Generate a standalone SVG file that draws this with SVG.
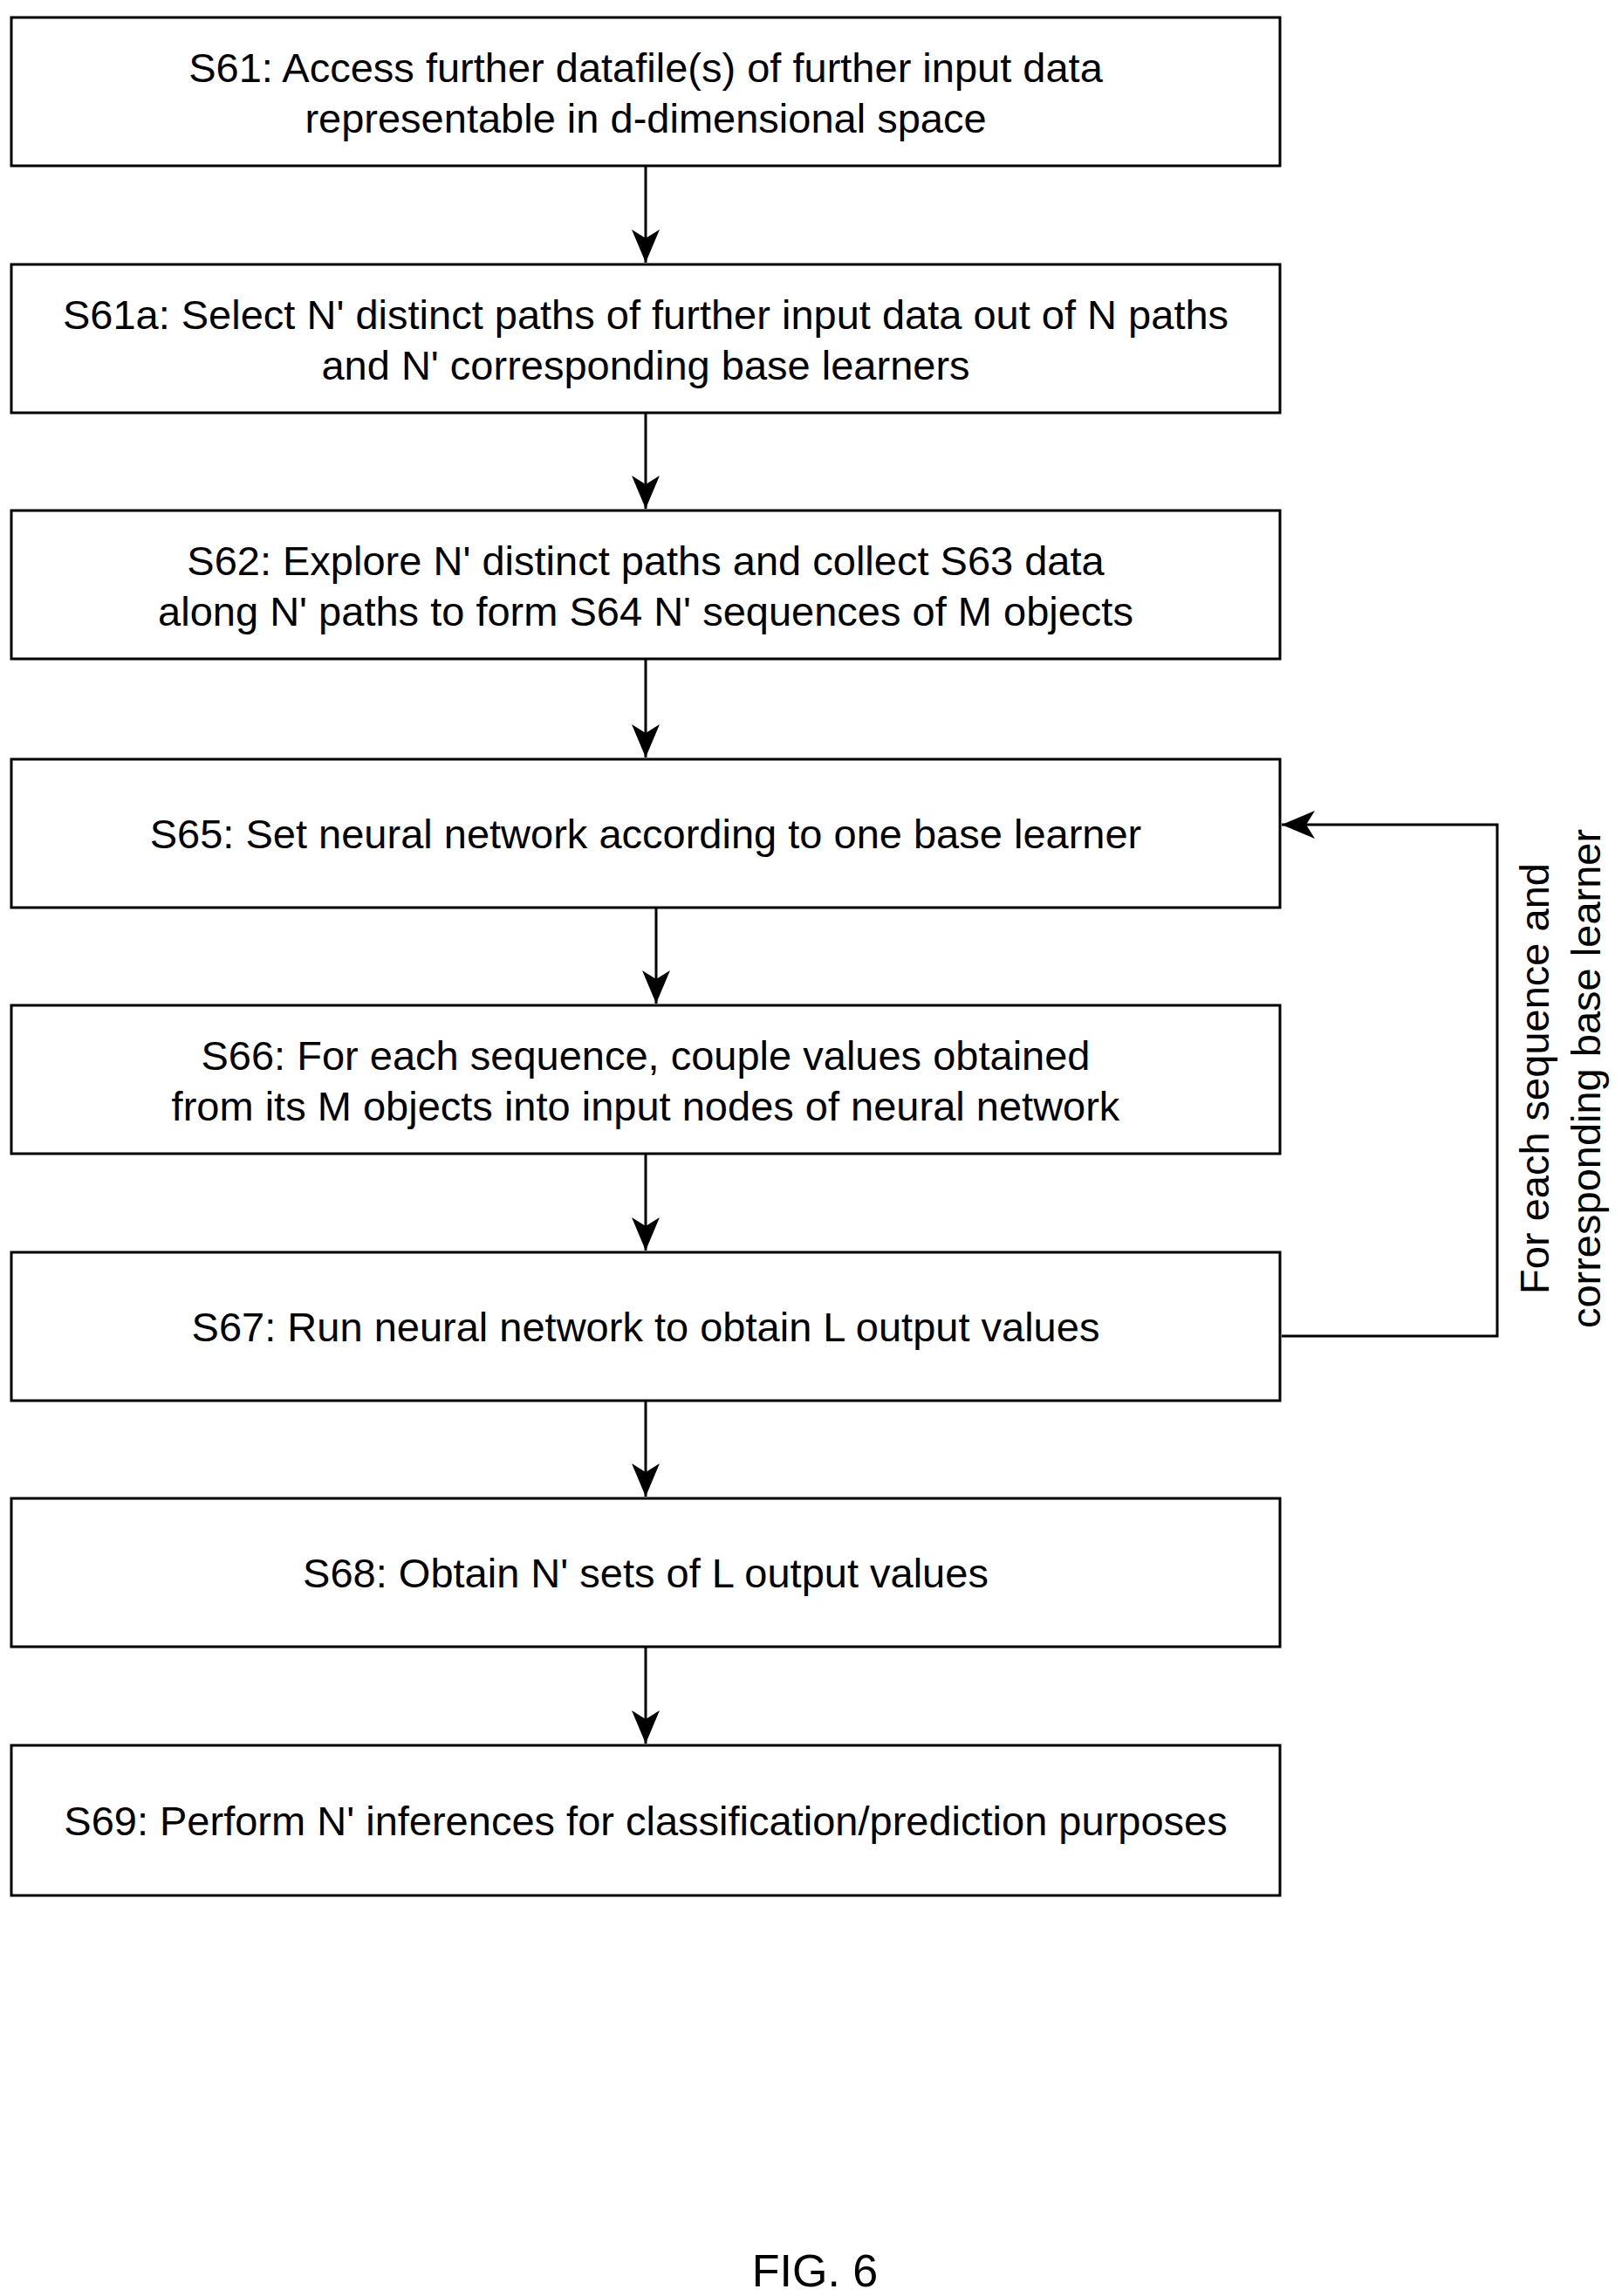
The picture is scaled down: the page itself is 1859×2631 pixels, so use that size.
<svg xmlns="http://www.w3.org/2000/svg" width="1859" height="2631" viewBox="0 0 1859 2631">
<style>
.b{fill:#fff;stroke:#000;stroke-width:3}
.t{font-family:"Liberation Sans",Arial,sans-serif;font-size:47px;text-anchor:middle;fill:#000}
.c{fill:none;stroke:#000;stroke-width:3}
</style>
<defs>
<marker id="ah" markerWidth="40" markerHeight="40" refX="38" refY="20" orient="auto" markerUnits="userSpaceOnUse" viewBox="0 0 40 40"><path d="M0,4 L38,20 L0,36 L10,20 z" fill="#000"/></marker></defs>
<rect width="1859" height="2631" fill="#fff"/>
<g id="n1"><rect class="b" x="13" y="20" width="1454" height="170"/><text class="t" x="740" y="94">S61: Access further datafile(s) of further input data</text><text class="t" x="740" y="152">representable in d-dimensional space</text></g>
<g id="n2"><rect class="b" x="13" y="303" width="1454" height="170"/><text class="t" x="740" y="377">S61a: Select N' distinct paths of further input data out of N paths</text><text class="t" x="740" y="435">and N' corresponding base learners</text></g>
<g id="n3"><rect class="b" x="13" y="585" width="1454" height="170"/><text class="t" x="740" y="659">S62: Explore N' distinct paths and collect S63 data</text><text class="t" x="740" y="717">along N' paths to form S64 N' sequences of M objects</text></g>
<g id="n4"><rect class="b" x="13" y="870" width="1454" height="170"/><text class="t" x="740" y="972">S65: Set neural network according to one base learner</text></g>
<g id="n5"><rect class="b" x="13" y="1152" width="1454" height="170"/><text class="t" x="740" y="1226">S66: For each sequence, couple values obtained</text><text class="t" x="740" y="1284">from its M objects into input nodes of neural network</text></g>
<g id="n6"><rect class="b" x="13" y="1435" width="1454" height="170"/><text class="t" x="740" y="1537">S67: Run neural network to obtain L output values</text></g>
<g id="n7"><rect class="b" x="13" y="1717" width="1454" height="170"/><text class="t" x="740" y="1819">S68: Obtain N' sets of L output values</text></g>
<g id="n8"><rect class="b" x="13" y="2000" width="1454" height="172"/><text class="t" x="740" y="2103">S69: Perform N' inferences for classification/prediction purposes</text></g>
<g id="connectors">
<line class="c" x1="740" y1="190" x2="740" y2="301" marker-end="url(#ah)"/>
<line class="c" x1="740" y1="473" x2="740" y2="583" marker-end="url(#ah)"/>
<line class="c" x1="740" y1="755" x2="740" y2="868" marker-end="url(#ah)"/>
<line class="c" x1="752" y1="1040" x2="752" y2="1150" marker-end="url(#ah)"/>
<line class="c" x1="740" y1="1322" x2="740" y2="1433" marker-end="url(#ah)"/>
<line class="c" x1="740" y1="1605" x2="740" y2="1715" marker-end="url(#ah)"/>
<line class="c" x1="740" y1="1887" x2="740" y2="1998" marker-end="url(#ah)"/>
<polyline class="c" points="1469,1531 1716,1531 1716,945 1469,945" marker-end="url(#ah)"/>
<text class="t" transform="translate(1775,1236) rotate(-90)">For each sequence and</text>
<text class="t" transform="translate(1834,1236) rotate(-90)">corresponding base learner</text>
</g>
<text class="t" x="934" y="2620" style="font-size:52px">FIG. 6</text>
</svg>
